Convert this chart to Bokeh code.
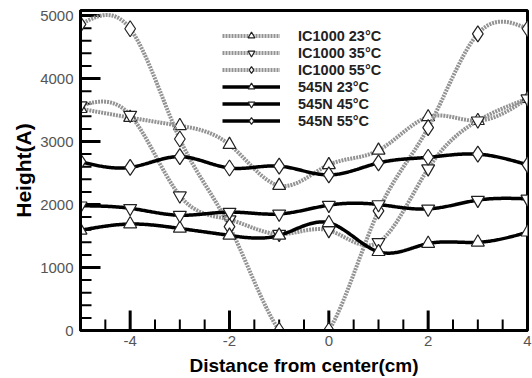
import numpy as np
from bokeh.plotting import figure
from bokeh.models import FixedTicker, Legend, LegendItem, Range1d
from bokeh.embed import file_html
from bokeh.resources import INLINE

x_vals = [-5, -4, -3, -2, -1, 0, 1, 2, 3, 4]
ic1000_23 = [3520, 3380, 3250, 2950, 2300, 2630, 2860, 3390, 3330, 3680]
ic1000_35 = [3570, 3420, 2140, 1760, 1530, 1590, 1400, 2570, 3330, 3680]
ic1000_55 = [4860, 4790, 3040, 1650, 0, 0, 1900, 3220, 4710, 4790]
n545_23 = [1590, 1690, 1620, 1510, 1510, 1710, 1250, 1380, 1400, 1560]
n545_45 = [1980, 1940, 1830, 1880, 1850, 1990, 2000, 1930, 2070, 2090]
n545_55 = [2680, 2590, 2760, 2580, 2610, 2470, 2660, 2750, 2800, 2630]

x_ticks = [-4, -2, 0, 2, 4]
x_minor = [-4.5, -3.5, -3, -2.5, -1.5, -1, -0.5, 0.5, 1, 1.5, 2.5, 3, 3.5]
y_ticks = [0, 1000, 2000, 3000, 4000, 5000]
y_minor = [v for v in range(200, 5000, 200) if v % 1000]

X0, X1, Y0, Y1 = -5, 4, 0, 5080


def natural_spline(xs, ys, n=400):
    xs = np.asarray(xs, float)
    ys = np.asarray(ys, float)
    m = len(xs)
    h = np.diff(xs)
    A = np.zeros((m, m))
    b = np.zeros(m)
    A[0, 0] = 1
    A[-1, -1] = 1
    for i in range(1, m - 1):
        A[i, i - 1] = h[i - 1]
        A[i, i] = 2 * (h[i - 1] + h[i])
        A[i, i + 1] = h[i]
        b[i] = 3 * ((ys[i + 1] - ys[i]) / h[i] - (ys[i] - ys[i - 1]) / h[i - 1])
    c = np.linalg.solve(A, b)
    xx = np.linspace(xs[0], xs[-1], n)
    yy = np.empty_like(xx)
    for k, xv in enumerate(xx):
        i = min(max(np.searchsorted(xs, xv) - 1, 0), m - 2)
        dx = xv - xs[i]
        bi = (ys[i + 1] - ys[i]) / h[i] - h[i] * (2 * c[i] + c[i + 1]) / 3
        di = (c[i + 1] - c[i]) / (3 * h[i])
        yy[k] = ys[i] + bi * dx + c[i] * dx ** 2 + di * dx ** 3
    return xx, yy


p = figure(width=532, height=378, output_backend="svg", toolbar_location=None,
           x_range=Range1d(X0, X1), y_range=Range1d(Y0, Y1),
           min_border_left=80, min_border_right=5, min_border_top=10, min_border_bottom=48)
p.background_fill_color = None
p.border_fill_color = "white"
p.xgrid.visible = False
p.ygrid.visible = False
p.outline_line_color = "black"
p.outline_line_width = 3

p.xaxis.ticker = FixedTicker(ticks=x_ticks, minor_ticks=x_minor)
p.yaxis.ticker = FixedTicker(ticks=y_ticks, minor_ticks=y_minor)
p.xaxis.major_label_overrides = {t: str(t) for t in x_ticks}
for ax in (p.xaxis, p.yaxis):
    ax.axis_line_width = 3
    ax.axis_line_color = "black"
    ax.major_tick_in = 0
    ax.major_tick_out = 0
    ax.minor_tick_in = 0
    ax.minor_tick_out = 0
    ax.major_label_text_font = "Liberation Sans"
    ax.major_label_text_font_size = "15px"
    ax.major_label_text_color = "#555555"
    ax.axis_label_text_font = "Liberation Sans"
    ax.axis_label_text_font_style = "bold"
    ax.axis_label_text_font_size = "19px"
    ax.axis_label_text_color = "black"
p.yaxis.axis_label_text_font_size = "21px"
p.xaxis.major_label_standoff = 5
p.yaxis.major_label_standoff = 7
p.xaxis.axis_label = "Distance from center(cm)"
p.yaxis.axis_label = "Height(A)"
p.xaxis.axis_label_standoff = 6
p.yaxis.axis_label_standoff = 2

# inward tick marks (drawn as screen-length rays from the axes)
p.ray(x=x_ticks[:-1], y=[Y0] * (len(x_ticks) - 1), length=20, angle=np.pi / 2,
      length_units="screen", line_color="black", line_width=3)
p.ray(x=x_minor, y=[Y0] * len(x_minor), length=11, angle=np.pi / 2,
      length_units="screen", line_color="black", line_width=2)
p.ray(x=[X0] * len(y_ticks), y=y_ticks, length=20, angle=0,
      length_units="screen", line_color="black", line_width=3)
p.ray(x=[X0] * len(y_minor), y=y_minor, length=11, angle=0,
      length_units="screen", line_color="black", line_width=2)

series = [
    ("IC1000 23°C", ic1000_23, "ic", "triangle", 13),
    ("IC1000 35°C", ic1000_35, "ic", "inverted_triangle", 13),
    ("IC1000 55°C", ic1000_55, "ic", "diamond", 16),
    ("545N 23°C", n545_23, "n", "triangle", 13),
    ("545N 45°C", n545_45, "n", "inverted_triangle", 13),
    ("545N 55°C", n545_55, "n", "diamond", 16),
]

items = []
for label, ys, kind, marker, msize in series:
    xx, yy = natural_spline(x_vals, ys)
    if kind == "ic":
        lr = p.line(xx, yy, line_color="#939393", line_width=4, line_dash="2 1")
    else:
        lr = p.line(xx, yy, line_color="black", line_width=3.5)
    sr = p.scatter(x_vals, ys, marker=marker, size=msize,
                   fill_color="white", line_color="#222222", line_width=1.2)
    items.append(LegendItem(label=label, renderers=[lr, sr]))

legend = Legend(items=items, location=(142, 201), orientation="vertical")
legend.background_fill_alpha = 0
legend.border_line_alpha = 0
legend.padding = 0
legend.margin = 0
legend.spacing = 0
legend.glyph_width = 58
legend.glyph_height = 17
legend.label_height = 17
legend.label_standoff = 18
legend.label_text_font = "Liberation Sans"
legend.label_text_font_style = "bold"
legend.label_text_font_size = "14.5px"
legend.label_text_color = "#222222"
p.add_layout(legend, "center")

open("out.html", "w").write(file_html(p, INLINE))
